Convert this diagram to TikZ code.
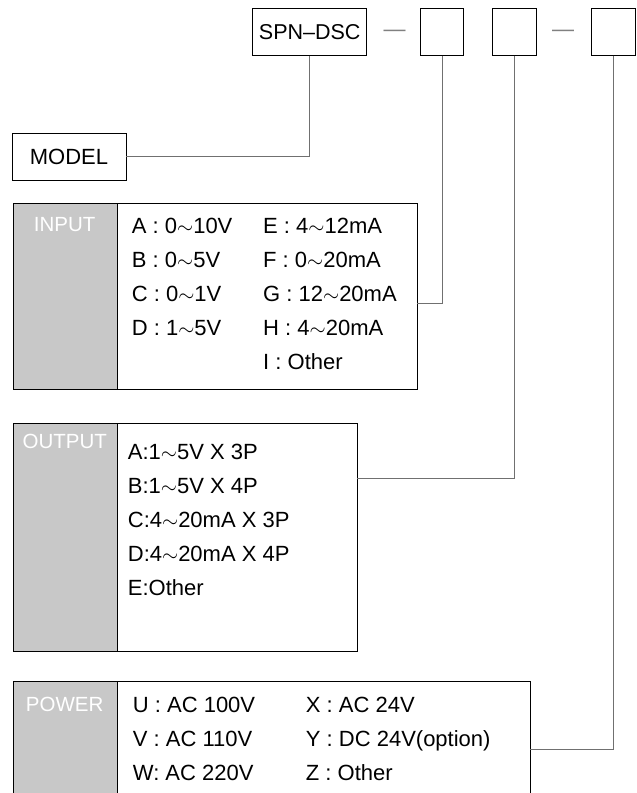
\documentclass[tikz,border=0pt]{standalone}
\usepackage{fontspec}
\setmainfont{Liberation Sans}
\usepackage{tikz}
\definecolor{keygray}{HTML}{C8C8C8}
\definecolor{linkgray}{HTML}{707070}
\newcommand{\rng}{$\sim$}

\begin{document}
\begin{tikzpicture}[x=1pt, y=-1pt,
    every node/.style={font=\fontsize{22}{34}\selectfont},
    codebox/.style={draw, line width=0.9pt, inner sep=0pt, minimum height=46.7pt},
    keybox/.style={draw, line width=0.9pt, fill=keygray, anchor=north west, inner sep=0pt, minimum width=104pt},
    valbox/.style={draw, line width=0.9pt, anchor=north west, inner sep=0pt},
    keytext/.style={text=white, inner sep=0pt, font=\fontsize{20.5}{34}\selectfont},
    coltext/.style={anchor=north west, align=left, inner sep=0pt},
    link/.style={draw=linkgray, line width=0.9pt},
    sep/.style={text=gray, inner sep=0pt}]
    \useasboundingbox (0,0) rectangle (637,793);
    \clip (0,0) rectangle (637,793);
    % code fields
    \node(code_0)[codebox, minimum width=114pt, font=\fontsize{21.5}{34}\selectfont] at (309.7,31.7) {SPN--DSC};
    \node(dash_1)[sep] at (394.5,33) {---};
    \node(code_1)[codebox, minimum width=43pt] at (442.2,31.7) {};
    \node(code_2)[codebox, minimum width=44pt] at (514,31.7) {};
    \node(dash_2)[sep] at (563.2,33) {---};
    \node(code_3)[codebox, minimum width=44pt] at (613,31.7) {};
    \node(model)[codebox, minimum width=114pt] at (69,156.7) {MODEL};
    % input
    \node(in_key)[keybox, minimum height=186pt] at (12.7,203) {};
    \node(in_val)[valbox, minimum width=300pt, minimum height=186pt] at (116.7,203) {};
    \node(in_lbl)[keytext] at (64.7,225) {INPUT};
    \node(in_col_1)[coltext] at (131.7,218) {A : 0\rng10V\\B : 0\rng5V\\C : 0\rng1V\\D : 1\rng5V};
    \node(in_col_2)[coltext] at (263,218) {E : 4\rng12mA\\F : 0\rng20mA\\G : 12\rng20mA\\H : 4\rng20mA\\I : Other};
    % output
    \node(out_key)[keybox, minimum height=228pt] at (12.7,423.3) {};
    \node(out_val)[valbox, minimum width=240.6pt, minimum height=228pt] at (116.7,423.3) {};
    \node(out_lbl)[keytext] at (64.7,441.7) {OUTPUT};
    \node(out_col)[coltext] at (127.7,443.7) {A:1\rng5V X 3P\\B:1\rng5V X 4P\\C:4\rng20mA X 3P\\D:4\rng20mA X 4P\\E:Other};
    % power
    \node(pw_key)[keybox, minimum height=130pt] at (12.7,680.7) {};
    \node(pw_val)[valbox, minimum width=412.8pt, minimum height=130pt] at (116.7,680.7) {};
    \node(pw_lbl)[keytext] at (64.7,704) {POWER};
    \node(pw_col_1)[coltext] at (132.7,697) {U : AC 100V\\V : AC 110V\\W: AC 220V};
    \node(pw_col_2)[coltext] at (305.7,697) {X : AC 24V\\Y : DC 24V(option)\\Z : Other};
    % connectors
    \coordinate(in_tap) at (416.7,303);
    \coordinate(out_tap) at (357.3,478.3);
    \coordinate(pw_tap) at (529.5,749.7);
    \draw[link] (code_0) |- (model);
    \draw[link] (code_1) |- (in_tap);
    \draw[link] (code_2) |- (out_tap);
    \draw[link] (code_3) |- (pw_tap);
\end{tikzpicture}
\end{document}
